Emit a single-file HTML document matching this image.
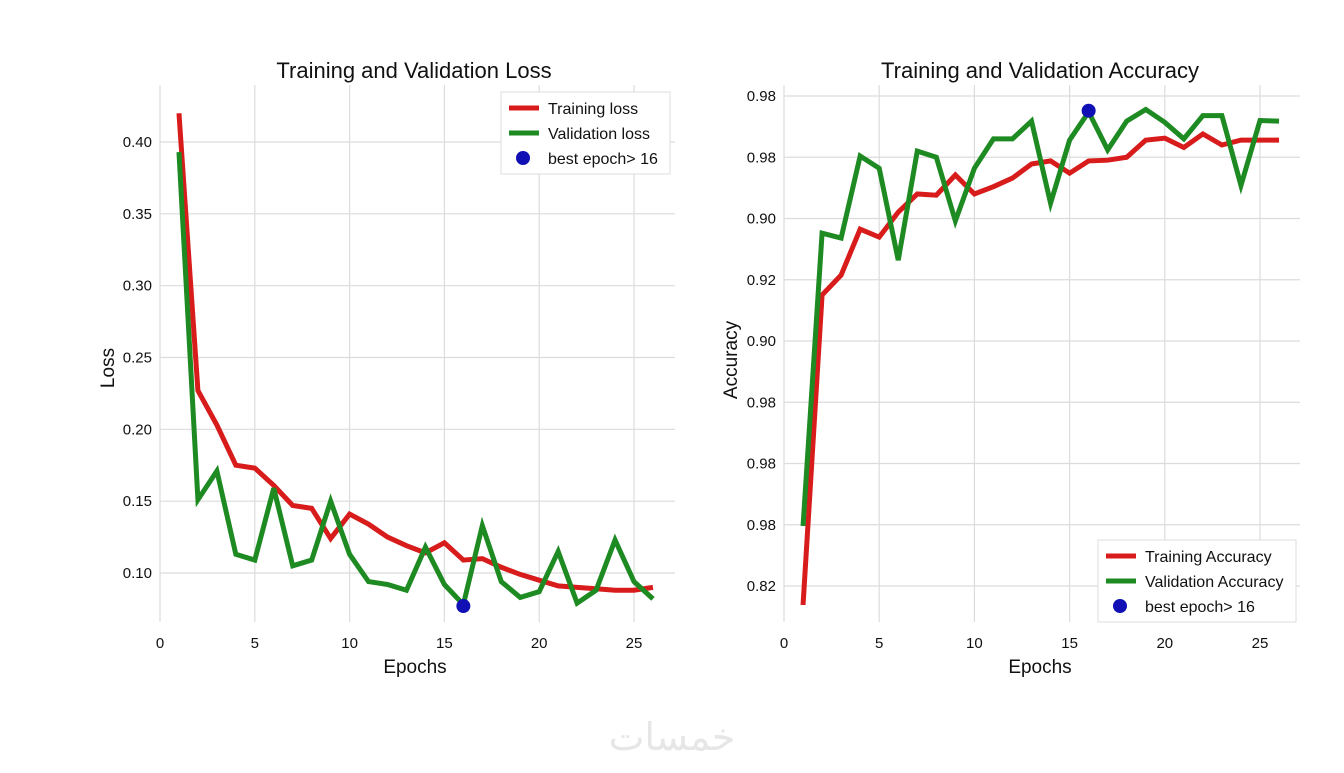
<!DOCTYPE html>
<html><head><meta charset="utf-8"><style>
body{margin:0;background:#fff;width:1344px;height:768px;overflow:hidden;font-family:"Liberation Sans","DejaVu Sans",sans-serif}
svg text{font-family:"Liberation Sans","DejaVu Sans",sans-serif;fill:#111}
</style></head><body>
<svg id="chart" width="1344" height="768" xmlns="http://www.w3.org/2000/svg"></svg>
<script>
const epochs=[1,2,3,4,5,6,7,8,9,10,11,12,13,14,15,16,17,18,19,20,21,22,23,24,25,26];
const trainLoss=[0.42,0.227,0.203,0.175,0.173,0.161,0.147,0.145,0.124,0.141,0.134,0.125,0.119,0.114,0.121,0.109,0.110,0.104,0.099,0.095,0.091,0.090,0.089,0.088,0.088,0.090];
const valLoss=[0.393,0.151,0.171,0.113,0.109,0.159,0.105,0.109,0.150,0.113,0.094,0.092,0.088,0.118,0.092,0.078,0.133,0.094,0.083,0.087,0.115,0.079,0.088,0.123,0.094,0.082];
const bestLoss=[16,0.077];
const trainAcc=[0.5645,0.8175,0.8338,0.8713,0.8648,0.8852,0.900,0.899,0.9155,0.900,0.906,0.913,0.9245,0.927,0.917,0.927,0.9276,0.930,0.944,0.9456,0.938,0.949,0.940,0.944,0.944,0.944];
const valAcc=[0.629,0.868,0.864,0.931,0.921,0.846,0.935,0.930,0.878,0.921,0.945,0.945,0.9595,0.8925,0.944,0.967,0.936,0.9595,0.969,0.9585,0.945,0.964,0.964,0.907,0.960,0.9595];
const bestAcc=[16,0.968];
const xTicks=[0,5,10,15,20,25];
const lossTicks=[0.10,0.15,0.20,0.25,0.30,0.35,0.40];
const lossTickLabels=["0.10","0.15","0.20","0.25","0.30","0.35","0.40"];
const accTicks=[0.58,0.63,0.68,0.73,0.78,0.83,0.88,0.93,0.98];
const accTickLabels=["0.82","0.98","0.98","0.98","0.90","0.92","0.90","0.98","0.98"];

const NS="http://www.w3.org/2000/svg";
const svg=document.getElementById('chart');
function mk(tag,attrs,parent,text){const e=document.createElementNS(NS,tag);for(const k in attrs)e.setAttribute(k,attrs[k]);if(text!==undefined)e.textContent=text;(parent||svg).appendChild(e);return e;}

function panel(o){
  const g=mk('g',{});
  
  
  const xs=v=>o.x0+(v-0)*(o.x25-o.x0)/25;
  const ys=v=>o.yA+(v-o.vA)*(o.yB-o.yA)/(o.vB-o.vA);
  o.yTicks.forEach((t,i)=>{
    const l=mk('line',{x1:o.gx0,x2:o.gx1,y1:ys(t),y2:ys(t),stroke:'#dcdcdc','stroke-width':1.2},g);
    
    
    const tx=mk('text',{x:o.x0-8,y:ys(t)+5,'text-anchor':'end','font-size':15},g,o.yLabels[i]);
    
    
  });
  xTicks.forEach(t=>{
    const l=mk('line',{x1:xs(t),x2:xs(t),y1:85,y2:622,stroke:'#dcdcdc','stroke-width':1.2},g);
    
    
    const tx=mk('text',{x:xs(t),y:648,'text-anchor':'middle','font-size':15},g,String(t));
    
    
  });
  const series=[[o.train,'#d81c1c','training-line'],[o.val,'#1e8a22','validation-line']];
  series.forEach(([d,c,n])=>{
    const p=mk('polyline',{points:d.map((v,i)=>xs(epochs[i])+','+ys(v)).join(' '),fill:'none',stroke:c,'stroke-width':5,'stroke-linejoin':'miter'},g);
    
    
  });
  const b=mk('circle',{cx:xs(o.best[0]),cy:ys(o.best[1]),r:7,fill:'#1010b4'},g);
  
  
  const t=mk('text',{x:o.tc,y:78,'text-anchor':'middle','font-size':22},g,o.title);
  
  
  const xl=mk('text',{x:o.xlc,y:673,'text-anchor':'middle','font-size':19},g,'Epochs');
  
  
  const yl=mk('text',{x:0,y:0,'text-anchor':'middle','font-size':19,transform:`translate(${o.ylx},${o.yly}) rotate(-90)`},g,o.ylabel);
  
  
  // legend
  const lg=mk('g',{},g);
  
  
  mk('rect',{x:o.lx,y:o.ly,width:o.lw,height:82,fill:'#fff',stroke:'#dcdcdc'},lg);
  const names=o.legend;
  [['#d81c1c',0],['#1e8a22',1]].forEach(([c,i])=>{
    mk('line',{x1:o.lx+8,x2:o.lx+38,y1:o.ly+16+i*25,y2:o.ly+16+i*25,stroke:c,'stroke-width':5},lg);
    const e=mk('text',{x:o.lx+47,y:o.ly+22+i*25,'font-size':16},lg,names[i]);
    
    
  });
  mk('circle',{cx:o.lx+22,cy:o.ly+66,r:7,fill:'#1010b4'},lg);
  const e=mk('text',{x:o.lx+47,y:o.ly+72,'font-size':16},lg,'best epoch> 16');
  
  
}
panel({name:'loss-chart',x0:160,x25:634,gx0:160,gx1:675,vA:0.10,yA:573,vB:0.40,yB:142,yTicks:lossTicks,yLabels:lossTickLabels,
  train:trainLoss,val:valLoss,best:bestLoss,title:'Training and Validation Loss',tc:414,xlc:415,ylabel:'Loss',ylx:114,yly:368,
  legend:['Training loss','Validation loss'],lx:501,ly:92,lw:169});
panel({name:'accuracy-chart',x0:784,x25:1260,gx0:784,gx1:1300,vA:0.58,yA:586,vB:0.98,yB:96,yTicks:accTicks,yLabels:accTickLabels,
  train:trainAcc,val:valAcc,best:bestAcc,title:'Training and Validation Accuracy',tc:1040,xlc:1040,ylabel:'Accuracy',ylx:737,yly:360,
  legend:['Training Accuracy','Validation Accuracy'],lx:1098,ly:540,lw:198});
const w=mk('text',{x:672,y:750,'text-anchor':'middle','font-size':38,style:'fill:#e6e6e6;font-family:"DejaVu Sans",sans-serif'},svg,'خمسات');


</script>
</body></html>
